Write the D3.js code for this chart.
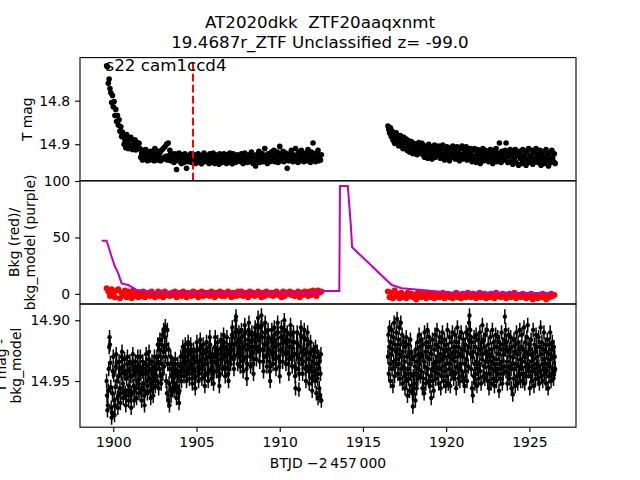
<!DOCTYPE html>
<html>
<head>
<meta charset="utf-8">
<script src="https://cdn.jsdelivr.net/npm/d3@7"></script>
<style>
  body { margin: 0; background: #fff; }
  svg { font-family: "DejaVu Sans", sans-serif; }
</style>
</head>
<body>
<div id="chart"></div>
<script>
var TITLE1 = 'AT2020dkk  ZTF20aaqxnmt';
var TITLE2 = '19.4687r_ZTF Unclassified z= -99.0';
var SECTOR_LABEL = 's22 cam1ccd4';
var XLABEL = 'BTJD \u22122\u2009457\u2009000';

var X_TICKS = [1900, 1905, 1910, 1915, 1920, 1925];
var MAG_TICKS = [14.8, 14.9];
var BKG_TICKS = [0, 50, 100];
var DIFF_TICKS = [14.90, 14.95];

// cadence of the light curve, two TESS orbits
var ORBIT1_START = 1899.6;
var ORBIT2_START = 1916.5;
var MAG_STEP = 0.05;
var DIFF_STEP = 0.025;
var BKG_STEP = 0.1;
var MAG_ZERO = 14.9; // mag arrays are mmag offsets from this
var MAG_ERR = 0.006;
var DISC_T = 1904.79; // discovery date (red dashed)
var DISC_MAG = 14.713;

// T mag, orbit 1 / orbit 2 (mmag from 14.9)
var tmag1 = [
  -180,-178,-140,-150,-128,-118,-96,-112,-86,-98,-66,-80,-52,-66,-44,-56,-30,-40,-18,-28,
  -18,0,-10,8,-22,-4,10,-12,4,-16,2,12,-6,8,-10,13,0,-4,10,-2,
  10,30,20,36,14,26,34,12,24,38,18,28,36,16,26,32,20,38,10,28,
  24,36,16,30,20,38,14,32,10,34,6,28,0,36,-3,26,14,38,22,34,
  30,42,22,36,58,26,34,20,40,28,44,24,36,42,22,32,55,28,40,26,
  34,22,42,30,38,24,32,44,28,36,22,42,30,26,45,28,36,20,40,32,
  26,38,32,44,22,34,42,28,20,36,44,24,32,40,28,46,22,36,28,42,
  32,22,40,28,44,24,36,32,20,42,30,45,22,38,28,42,34,24,38,30,
  28,40,22,36,44,30,20,38,26,42,34,24,40,28,18,36,44,26,32,50,
  24,38,30,16,42,28,36,22,40,32,10,36,26,44,22,34,40,28,18,38,
  30,14,40,24,36,18,42,26,5,38,22,34,16,40,28,20,36,55,26,38,
  22,34,14,30,40,24,38,10,34,26,42,18,38,28,14,36,22,40,30,20,
  28,38,12,34,22,42,18,32,-3,36,26,40,20,34,14,38,26,36,24
];
var tmag2 = [
  -42,-34,-26,-38,-18,-30,-10,-22,-2,-14,-26,-6,-18,4,-12,-20,0,-8,10,-16,
  -4,8,-12,14,0,-8,18,4,-6,12,22,-2,8,16,2,24,10,-4,20,6,
  10,-2,24,14,30,4,20,8,32,0,16,28,6,34,12,22,2,30,18,10,
  24,4,18,32,10,28,2,22,36,14,26,6,32,18,38,8,26,20,4,30,
  14,34,22,6,30,18,38,10,26,4,34,22,12,30,6,36,24,16,32,10,
  24,40,14,32,10,28,42,20,12,36,26,44,18,32,10,38,24,14,34,28,
  18,40,30,12,36,22,44,14,32,26,10,40,20,34,-3,28,42,16,32,24,
  36,14,-3,30,42,22,28,12,40,26,46,18,34,12,42,26,20,48,16,32,
  24,44,12,36,28,16,48,20,38,10,32,42,26,14,46,34,20,40,10,30,
  42,22,36,14,48,28,38,18,44,30,12,38,24,50,20,34,42,14,30,40,
  22,44
];

// T mag - bkg_model (mmag from 14.9), half-day rows
var diff1 = [
  50,62,74,70,58,40,22,14,20,35,55,72,80,76,60,42,30,45,66,78,
  70,55,38,28,35,50,64,72,62,46,34,40,56,68,60,44,30,26,38,52,
  64,58,42,32,44,60,70,62,48,36,30,42,58,66,54,40,34,46,62,72,
  60,46,36,28,38,54,66,58,44,34,42,56,64,50,38,30,40,52,60,48,
  38,30,44,58,66,56,42,34,40,52,62,70,58,44,36,28,38,50,60,54,
  42,32,26,36,48,58,64,52,40,34,44,56,62,50,38,30,42,54,48,36,
  40,30,50,20,34,56,24,40,16,46,30,52,20,36,12,44,26,8,38,22,
  14,5,30,50,20,60,8,36,66,24,52,70,40,58,30,62,46,36,56,44,
  36,48,58,52,40,32,42,56,64,54,44,36,46,60,68,58,46,38,30,42,
  50,40,30,22,28,38,46,36,26,20,30,42,50,44,34,24,18,28,40,48,
  38,28,20,26,36,44,52,42,32,24,30,40,48,56,46,34,26,18,24,34,
  42,50,44,34,24,16,22,32,40,48,38,28,20,26,36,46,54,44,32,24,
  18,26,36,44,50,42,30,22,14,20,30,40,48,38,28,34,44,52,42,30,
  22,14,24,34,42,36,26,18,28,38,46,54,44,32,24,16,22,32,40,30,
  20,12,18,28,38,46,40,30,22,14,24,34,44,50,40,28,20,26,36,30,
  20,12,6,14,24,32,40,30,20,10,0,-3,8,18,28,36,26,16,10,22,
  30,38,28,18,8,14,24,34,42,32,22,12,4,10,20,30,40,48,36,24,
  16,8,2,12,22,30,38,28,18,10,16,26,36,44,32,22,12,6,14,24,
  32,22,12,4,-2,6,16,26,34,24,14,6,-4,4,14,24,34,42,30,20,
  10,2,10,20,30,38,28,18,8,14,24,34,42,50,38,26,16,8,18,28,
  36,26,16,6,12,22,32,40,30,20,10,2,10,20,30,38,46,34,24,14,
  6,14,24,34,26,16,8,0,8,18,28,36,28,18,10,16,26,36,44,32,
  22,12,4,12,22,30,38,28,18,10,18,28,38,46,56,40,28,18,10,20,
  30,40,57,44,32,22,12,6,14,26,36,44,34,24,14,8,16,28,40,50,
  38,26,16,10,20,32,42,52,40,28,18,26,38,48,58,46,34,24,30,42,
  30,50,22,44,60,36,26,48,64,40,30,56,34,62,44,28,66
];
var diff2 = [
  30,12,44,22,6,36,50,18,28,8,40,24,54,14,34,2,46,20,38,26,
  10,32,-1,24,44,16,36,6,28,48,20,2,40,30,12,52,26,38,18,46,
  34,56,22,44,14,50,30,62,40,20,48,28,58,36,16,44,26,54,32,60,
  71,46,60,30,52,38,66,24,44,56,34,18,48,28,40,12,36,22,46,30,
  16,42,28,56,20,48,34,60,10,38,26,52,18,44,30,8,40,22,50,14,
  32,54,22,46,64,28,40,16,50,36,58,24,42,12,34,48,20,38,8,30,
  44,22,52,34,14,40,28,56,18,46,32,10,38,24,50,30,16,42,26,54,
  36,20,46,8,30,52,24,40,14,36,54,28,44,18,32,10,42,26,48,22,
  34,12,44,26,56,18,38,6,30,48,22,40,14,50,28,36,10,42,24,46,
  30,16,48,24,54,36,20,42,10,32,50,26,12,38,22,2,-4,16,8,28,
  40,18,56,30,62,26,46,14,36,52,22,44,12,34,54,28,40,16,48,24,
  36,10,42,24,52,18,32,4,28,46,16,38,22,48,12,34,26,44,8,30,
  50,20,38,56,28,44,14,34,52,24,40,8,30,48,18,36,54,22,42,12,
  32,50,22,40,14,44,28,58,18,36,48,24,40,10,34,52,20,44,28,38,
  16,-3,24,8,42,18,34,52,26,44,12,38,24,48,30,14,40,56,22,36,
  61,30,48,16,40,26,54,20,36,10,46,28,52,18,38,24,44,8,32,50,
  22,40,12,34,50,24,44,6,30,52,18,38,26,46,14,36,4,28,42,20,
  38,56,24,46,16,34,50,28,42,8,32,54,20,40,26,48,12,36,22,44,
  30,48,14,38,52,22,42,6,28,46,18,36,50,24,40,10,32,44,20,36,
  52,26,42,16,36,56,28,46,20,38,10,32,50,24,44,18,40,30,48,22,
  42,30,40
];

// background flux (red)
var bkg1 = [
  5,2,-2,4,0,-3,3,4,-4,1,
  -1,3,-3,2,0,-4,3,-2,1,-3,
  1,-2,2,-3,0,1,-2,2,-1,-3,
  0,2,-2,1,-3,2,-1,0,-2,1,
  -1,2,-3,0,1,-2,2,-1,-3,1,
  0,-2,2,-1,1,-3,0,2,-2,1,
  -1,1,-2,2,0,-3,1,-1,2,-2,
  1,-2,0,2,-1,-3,1,0,-2,2,
  -1,2,-2,0,1,-3,2,-1,1,-2,
  0,2,-1,-3,1,-2,2,0,-1,1,
  -2,1,2,-1,0,-3,2,-2,1,0,
  2,-1,1,-2,0,2,-3,1,-1,2,
  0,-2,2,-1,3,0,-2,3,1,2
];
var bkg2 = [
  2,-3,1,-4,3,-2,0,-4,1,-3,
  -1,-4,1,-2,0,-3,-1,-5,1,-2,
  -3,0,-2,-4,1,-1,-3,0,-4,-2,
  0,-3,-1,1,-4,-2,0,-3,-1,-4,
  -2,1,-3,-1,-4,0,-2,-3,1,-1,
  -3,0,-1,-4,-2,1,-3,-1,0,-4,
  -1,-3,0,-2,-4,1,-2,-1,-3,0,
  -2,-4,-1,0,-3,-2,1,-4,-1,-2,
  -3,0,-2,-4,-1,-3,0,-5,-2,-1,
  -4,-1,-3,0,-2,-5,-1,-3,0,-2,
  -1
];

// background model (purple line)
var modelT = [1899.30, 1899.60, 1899.90, 1900.10, 1900.30, 1900.50, 1900.90, 1901.40, 1902.20, 1905.20,
  1912.00, 1912.40, 1913.58, 1913.62, 1914.09, 1914.27, 1914.35, 1916.73, 1917.33, 1920.00, 1926.44];
var modelV = [47.1, 47.0, 32.9, 24.1, 18.2, 9.3, 7.8, 3.4, 1.9, 0.5,
  0.5, 2.5, 2.5, 95.6, 95.6, 61.0, 41.3, 7.8, 4.9, 1.4, 0.5];


function series(start, step, vals, div, zero) {
  return vals.map(function(v, i) {
    return { t: start + i * step, v: zero + v / div };
  });
}

var magPts = series(ORBIT1_START, MAG_STEP, tmag1, 1000, MAG_ZERO)
  .concat(series(ORBIT2_START, MAG_STEP, tmag2, 1000, MAG_ZERO));
var diffPts = series(ORBIT1_START, DIFF_STEP, diff1, 1000, MAG_ZERO)
  .concat(series(ORBIT2_START, DIFF_STEP, diff2, 1000, MAG_ZERO));
var bkgPts = series(ORBIT1_START, BKG_STEP, bkg1, 1, 0)
  .concat(series(ORBIT2_START, BKG_STEP, bkg2, 1, 0));
var modelPts = modelT.map(function(t, i) { return { t: t, v: modelV[i] }; });

var W = 640, H = 480;
var AX_L = 80, AX_R = 576, AX_T = 57.6, PH = 123.2;
var TICK = 4.9, FS = 13.9;

var svg = d3.select('#chart').append('svg')
  .attr('width', W).attr('height', H);

var x = d3.scaleLinear().domain([1898.0, 1927.8]).range([AX_L, AX_R]);
var y1 = d3.scaleLinear().domain([14.701, 14.984]).range([AX_T, AX_T + PH]);
var y2 = d3.scaleLinear().domain([-9, 100.2]).range([AX_T + 2 * PH, AX_T + PH]);
var y3 = d3.scaleLinear().domain([14.8866, 14.988]).range([AX_T + 2 * PH, AX_T + 3 * PH]);

// clip each panel
[0, 1, 2].forEach(function(k) {
  svg.append('clipPath').attr('id', 'clip' + k)
    .append('rect')
    .attr('x', AX_L).attr('y', AX_T + k * PH)
    .attr('width', AX_R - AX_L).attr('height', PH);
});

// panel 1: T mag
var p1 = svg.append('g').attr('clip-path', 'url(#clip0)');
p1.selectAll('circle').data(magPts).enter().append('circle')
  .attr('cx', function(d) { return x(d.t); })
  .attr('cy', function(d) { return y1(d.v); })
  .attr('r', 2.8)
  .attr('fill', '#000');
p1.append('line')
  .attr('x1', x(DISC_T)).attr('x2', x(DISC_T))
  .attr('y1', y1(DISC_MAG)).attr('y2', y1(y1.domain()[1]))
  .attr('stroke', 'red').attr('stroke-width', 2)
  .attr('stroke-dasharray', '7.7,3.3');

// panel 2: background
var p2 = svg.append('g').attr('clip-path', 'url(#clip1)');
p2.selectAll('circle').data(bkgPts).enter().append('circle')
  .attr('cx', function(d) { return x(d.t); })
  .attr('cy', function(d) { return y2(d.v); })
  .attr('r', 3)
  .attr('fill', 'red');
p2.append('path')
  .datum(modelPts)
  .attr('fill', 'none')
  .attr('stroke', '#bf00bf')
  .attr('stroke-width', 2)
  .attr('d', d3.line()
    .x(function(d) { return x(d.t); })
    .y(function(d) { return y2(d.v); }));

// panel 3: T mag - bkg_model with error bars
var p3 = svg.append('g').attr('clip-path', 'url(#clip2)');
p3.selectAll('line').data(diffPts).enter().append('line')
  .attr('x1', function(d) { return x(d.t); })
  .attr('x2', function(d) { return x(d.t); })
  .attr('y1', function(d) { return y3(d.v - MAG_ERR); })
  .attr('y2', function(d) { return y3(d.v + MAG_ERR); })
  .attr('stroke', '#000').attr('stroke-width', 1.5);
p3.selectAll('circle').data(diffPts).enter().append('circle')
  .attr('cx', function(d) { return x(d.t); })
  .attr('cy', function(d) { return y3(d.v); })
  .attr('r', 2.2)
  .attr('fill', '#000');

// frames
[0, 1, 2].forEach(function(k) {
  svg.append('rect')
    .attr('x', AX_L).attr('y', AX_T + k * PH)
    .attr('width', AX_R - AX_L).attr('height', PH)
    .attr('fill', 'none').attr('stroke', '#000').attr('stroke-width', 1.1);
});

function styleAxis(g) {
  g.attr('font-size', FS).attr('font-family', '"DejaVu Sans", sans-serif');
  g.select('.domain').remove();
  g.selectAll('line').attr('stroke', '#000').attr('stroke-width', 1.1);
  g.selectAll('text').attr('fill', '#000');
}

svg.append('g').attr('transform', 'translate(' + AX_L + ',0)')
  .call(d3.axisLeft(y1).tickValues(MAG_TICKS).tickFormat(d3.format('.1f')).tickSize(TICK).tickPadding(TICK))
  .call(styleAxis);
svg.append('g').attr('transform', 'translate(' + AX_L + ',0)')
  .call(d3.axisLeft(y2).tickValues(BKG_TICKS).tickFormat(d3.format('d')).tickSize(TICK).tickPadding(TICK))
  .call(styleAxis);
svg.append('g').attr('transform', 'translate(' + AX_L + ',0)')
  .call(d3.axisLeft(y3).tickValues(DIFF_TICKS).tickFormat(d3.format('.2f')).tickSize(TICK).tickPadding(TICK))
  .call(styleAxis);
svg.append('g').attr('transform', 'translate(0,' + (AX_T + 3 * PH) + ')')
  .call(d3.axisBottom(x).tickValues(X_TICKS).tickFormat(d3.format('d')).tickSize(TICK).tickPadding(TICK))
  .call(styleAxis);

// y labels
function ylabel(txt, cx, cy) {
  svg.append('text')
    .attr('transform', 'translate(' + cx + ',' + cy + ') rotate(-90)')
    .attr('text-anchor', 'middle')
    .attr('dy', '0.35em')
    .attr('font-size', FS)
    .text(txt);
}
ylabel('T mag', 27, AX_T + PH / 2);
ylabel('Bkg (red)/', 14.5, AX_T + 1.5 * PH);
ylabel('bkg_model (purple)', 30.5, AX_T + 1.5 * PH);
ylabel('T mag -', 1, AX_T + 2.5 * PH);
ylabel('bkg_model', 16.5, AX_T + 2.5 * PH);

// x label
svg.append('text')
  .attr('x', (AX_L + AX_R) / 2).attr('y', 468)
  .attr('text-anchor', 'middle')
  .attr('font-size', FS)
  .text(XLABEL);

// title
svg.append('text')
  .attr('x', 320).attr('y', 27.5)
  .attr('text-anchor', 'middle')
  .attr('font-size', 16.7)
  .style('white-space', 'pre')
  .text(TITLE1);
svg.append('text')
  .attr('x', 320).attr('y', 47.5)
  .attr('text-anchor', 'middle')
  .attr('font-size', 16.7)
  .text(TITLE2);

// sector / camera label
svg.append('text')
  .attr('x', 105.5).attr('y', 70.5)
  .attr('font-size', 16.7)
  .text(SECTOR_LABEL);
</script>
</body>
</html>
